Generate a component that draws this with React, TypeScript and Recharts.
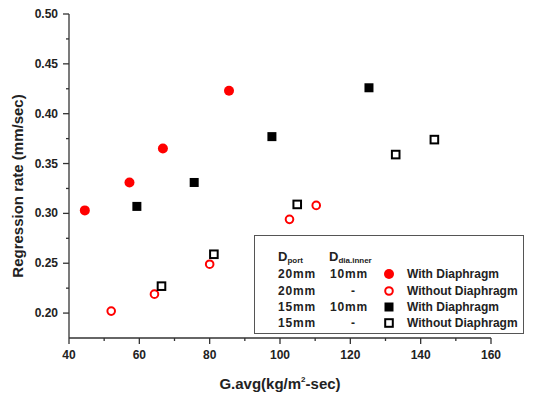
import { ScatterChart, Scatter, XAxis, YAxis } from "recharts";

// 20mm port, with diaphragm (red filled circles)
const port20WithX = [44.5, 57.2, 66.7, 85.5];
const port20WithY = [0.303, 0.331, 0.365, 0.423];
// 20mm port, without diaphragm (red open circles)
const port20WithoutX = [52.0, 64.3, 80.0, 102.7, 110.3];
const port20WithoutY = [0.202, 0.219, 0.249, 0.294, 0.308];
// 15mm port, with diaphragm (black filled squares)
const port15WithX = [59.3, 75.6, 97.7, 125.3];
const port15WithY = [0.307, 0.331, 0.377, 0.426];
// 15mm port, without diaphragm (black open squares)
const port15WithoutX = [66.3, 81.2, 104.9, 132.9, 143.9];
const port15WithoutY = [0.227, 0.259, 0.309, 0.359, 0.374];

const xTicks = [40, 50, 60, 70, 80, 90, 100, 110, 120, 130, 140, 150, 160];
const yTicks = [0.2, 0.225, 0.25, 0.275, 0.3, 0.325, 0.35, 0.375, 0.4, 0.425, 0.45, 0.475, 0.5];

const legendRows = [
  { port: "20mm", dia: "10mm", label: "With Diaphragm", kind: "fillCircle" },
  { port: "20mm", dia: "-", label: "Without Diaphragm", kind: "openCircle" },
  { port: "15mm", dia: "10mm", label: "With Diaphragm", kind: "fillSquare" },
  { port: "15mm", dia: "-", label: "Without Diaphragm", kind: "openSquare" },
];

const toPoints = (xs: number[], ys: number[]) => xs.map((x, i) => ({ x, y: ys[i] }));

const FONT = "'Liberation Sans', Arial, sans-serif";

function Marker({ kind, cx, cy }: { kind: string; cx: number; cy: number }) {
  if (kind === "fillCircle") return <circle cx={cx} cy={cy} r={5} fill="#ff0000" />;
  if (kind === "openCircle")
    return <circle cx={cx} cy={cy} r={3.8} fill="#fff" stroke="#ff0000" strokeWidth={2} />;
  if (kind === "fillSquare") return <rect x={cx - 4.5} y={cy - 4.5} width={9} height={9} fill="#000" />;
  return <rect x={cx - 3.8} y={cy - 3.8} width={7.6} height={7.6} fill="#fff" stroke="#000" strokeWidth={2} />;
}

const shapeOf = (kind: string) => (p: any) => <Marker kind={kind} cx={p.cx} cy={p.cy} />;

const isMajor = (v: number, step: number) => Math.abs(v / step - Math.round(v / step)) < 1e-6;

function YTick(props: any) {
  const { x, y, payload } = props;
  const major = isMajor(payload.value, 0.05);
  return (
    <g>
      <line x1={x - (major ? 6 : 3)} x2={x} y1={y} y2={y} stroke="#333" strokeWidth={1.3} />
      {major && (
        <text x={x - 11} y={y + 4} textAnchor="end" fontSize={12} fontWeight="bold" fontFamily={FONT} fill="#222">
          {payload.value.toFixed(2)}
        </text>
      )}
    </g>
  );
}

function XTick(props: any) {
  const { x, y, payload } = props;
  const major = isMajor(payload.value, 20);
  return (
    <g>
      <line x1={x} x2={x} y1={y} y2={y + (major ? 6 : 3)} stroke="#333" strokeWidth={1.3} />
      {major && (
        <text x={x} y={y + 21} textAnchor="middle" fontSize={12} fontWeight="bold" fontFamily={FONT} fill="#222">
          {payload.value}
        </text>
      )}
    </g>
  );
}

function LegendBox() {
  const rowY = [39, 56, 72, 88];
  return (
    <svg
      width={270}
      height={99}
      style={{ position: "absolute", left: 254, top: 235 }}
      fontFamily={FONT}
      fontWeight="bold"
      fontSize={12}
    >
      <rect x={0.5} y={0.5} width={269} height={98} fill="#fff" stroke="#555" strokeWidth={1} />
      <text x={24} y={26} fontSize={13} fill="#222">
        D<tspan fontSize={8} dy={2}>port</tspan>
      </text>
      <text x={75} y={26} fontSize={13} fill="#222">
        D<tspan fontSize={8} dy={2}>dia.inner</tspan>
      </text>
      {legendRows.map((r, i) => (
        <g key={i}>
          <text x={24} y={rowY[i] + 4} fill="#222" letterSpacing={0.8}>{r.port}</text>
          <text x={r.dia === "-" ? 97 : 76} y={rowY[i] + 4} fill="#222" letterSpacing={0.8}>{r.dia}</text>
          <Marker kind={r.kind} cx={135} cy={rowY[i]} />
          <text x={153} y={rowY[i] + 4} fill="#222">{r.label}</text>
        </g>
      ))}
    </svg>
  );
}

export default function App() {
  return (
    <div style={{ position: "absolute", left: 0, top: 0, width: 533, height: 394, background: "#fff" }}>
      <ScatterChart width={533} height={394} margin={{ top: 14, right: 42, bottom: 16, left: 10 }}>
        <XAxis
          type="number"
          dataKey="x"
          domain={[40, 160]}
          ticks={xTicks}
          interval={0}
          tickSize={0}
          tickMargin={0}
          tick={<XTick />}
          height={40}
          axisLine={{ stroke: "#333", strokeWidth: 1.3 }}
          label={{
            content: () => (
              <text x={280} y={389} textAnchor="middle" fontSize={15} fontWeight="bold" fontFamily={FONT} fill="#222">
                G.avg(kg/m<tspan fontSize={8} dy={-7}>2</tspan>
                <tspan dy={7}>-sec)</tspan>
              </text>
            ),
          }}
        />
        <YAxis
          type="number"
          dataKey="y"
          domain={[0.175, 0.5]}
          ticks={yTicks}
          interval={0}
          tickSize={0}
          tickMargin={0}
          tick={<YTick />}
          width={59}
          axisLine={{ stroke: "#333", strokeWidth: 1.3 }}
          label={{
            content: () => (
              <text
                x={23}
                y={186}
                transform="rotate(-90 23 186)"
                textAnchor="middle"
                fontSize={15}
                fontWeight="bold"
                fontFamily={FONT}
                fill="#222"
              >
                Regression rate (mm/sec)
              </text>
            ),
          }}
        />
        <Scatter data={toPoints(port20WithX, port20WithY)} shape={shapeOf("fillCircle")} isAnimationActive={false} />
        <Scatter data={toPoints(port20WithoutX, port20WithoutY)} shape={shapeOf("openCircle")} isAnimationActive={false} />
        <Scatter data={toPoints(port15WithX, port15WithY)} shape={shapeOf("fillSquare")} isAnimationActive={false} />
        <Scatter data={toPoints(port15WithoutX, port15WithoutY)} shape={shapeOf("openSquare")} isAnimationActive={false} />
      </ScatterChart>
      <LegendBox />
    </div>
  );
}
